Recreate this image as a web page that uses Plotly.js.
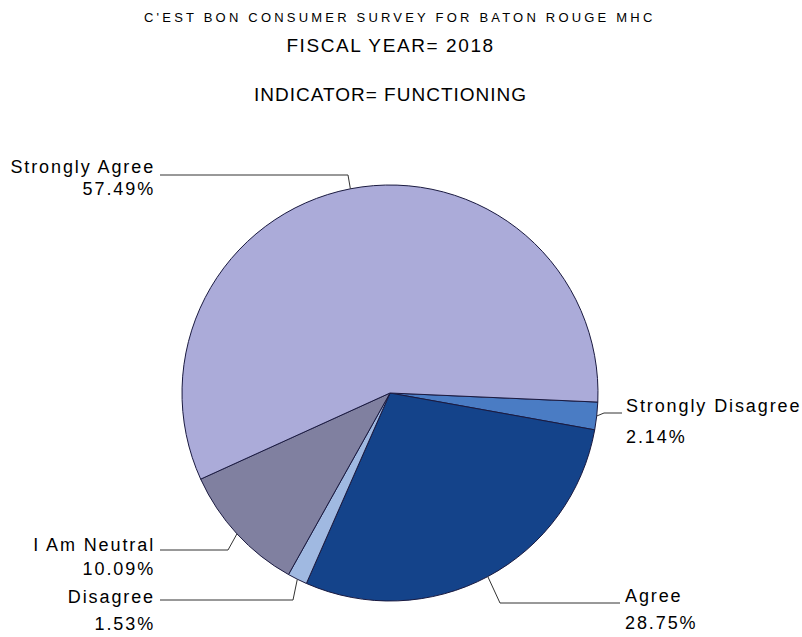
<!DOCTYPE html>
<html><head><meta charset="utf-8">
<script src="https://cdn.plot.ly/plotly-3.0.1.min.js"></script>
<style>
html,body{margin:0;padding:0;background:#fff}
.annotation text{letter-spacing:1.9px}
.annotation[data-index="10"] text{letter-spacing:3.2px}
.annotation[data-index="11"] text{letter-spacing:1.6px}
.annotation[data-index="12"] text{letter-spacing:1.0px}
</style>
</head><body><div id="chart" style="width:802px;height:637px"></div>
<script>
// ---- data ----
const categories = ["Strongly Disagree", "Agree", "Disagree", "I Am Neutral", "Strongly Agree"];
const percents = [2.14, 28.75, 1.53, 10.09, 57.49];
const pctLabels = ["2.14%", "28.75%", "1.53%", "10.09%", "57.49%"];
const colors = ["#4A7CC4", "#14438A", "#A0B9E1", "#8080A0", "#ABABD9"];
const titleLines = ["C'EST BON CONSUMER SURVEY FOR BATON ROUGE MHC", "FISCAL YEAR= 2018", "INDICATOR= FUNCTIONING"];

// ---- layout constants (pixels) ----
const W = 802, H = 637;
const cx = 390, cy = 393, R = 208;
const rotation = 92.5;
const px = x => x / W;
const py = y => 1 - y / H;
const FONT = "Liberation Sans, Arial, sans-serif";

const labelLayout = {
  "Strongly Agree":   {x: 157, yName: 167, yPct: 189, anchor: "right", kink: [348, 175], endX: 160},
  "Strongly Disagree":{x: 624, yName: 406, yPct: 437, anchor: "left",  kink: [604, 413], endX: 622},
  "Agree":            {x: 623, yName: 596, yPct: 623, anchor: "left",  kink: [500, 603], endX: 620},
  "Disagree":         {x: 157, yName: 597, yPct: 624, anchor: "right", kink: [293, 600], endX: 160},
  "I Am Neutral":     {x: 157, yName: 545, yPct: 569, anchor: "right", kink: [228, 550], endX: 160}
};

const total = percents.reduce((a, b) => a + b, 0);
const annotations = [];
const shapes = [];
let cum = 0;
categories.forEach((cat, i) => {
  const mid = cum + percents[i] / 2;
  cum += percents[i];
  const th = (rotation + 360 * mid / total) * Math.PI / 180;
  const ex = cx + R * Math.sin(th), ey = cy - R * Math.cos(th);
  const L = labelLayout[cat];
  shapes.push({
    type: "path", xref: "paper", yref: "paper",
    path: `M ${px(ex)} ${py(ey)} L ${px(L.kink[0])} ${py(L.kink[1])} L ${px(L.endX)} ${py(L.kink[1])}`,
    line: {color: "#333333", width: 1}
  });
  annotations.push({xref: "paper", yref: "paper", x: px(L.x), y: py(L.yName), xanchor: L.anchor, align: L.anchor, yanchor: "middle",
    text: cat, showarrow: false, font: {family: FONT, size: 18, color: "#000"}});
  annotations.push({xref: "paper", yref: "paper", x: px(L.x), y: py(L.yPct), xanchor: L.anchor, align: L.anchor, yanchor: "middle",
    text: pctLabels[i], showarrow: false, font: {family: FONT, size: 18, color: "#000"}});
});

annotations.push({xref: "paper", yref: "paper", x: px(400), y: py(18), xanchor: "center", yanchor: "middle",
  text: titleLines[0], showarrow: false, font: {family: FONT, size: 13, color: "#000"}});
annotations.push({xref: "paper", yref: "paper", x: px(390), y: py(45), xanchor: "center", yanchor: "middle",
  text: titleLines[1], showarrow: false, font: {family: FONT, size: 19, color: "#000"}});
annotations.push({xref: "paper", yref: "paper", x: px(390), y: py(95), xanchor: "center", yanchor: "middle",
  text: titleLines[2], showarrow: false, font: {family: FONT, size: 19, color: "#000"}});

const trace = {
  type: "pie",
  labels: categories,
  values: percents,
  sort: false,
  direction: "clockwise",
  rotation: rotation,
  textinfo: "none",
  hoverinfo: "label+percent",
  marker: {colors: colors, line: {color: "#1a1a40", width: 1}},
  domain: {x: [px(cx - R), px(cx + R)], y: [py(cy + R), py(cy - R)]}
};

Plotly.newPlot("chart", [trace], {
  width: W, height: H,
  margin: {l: 0, r: 0, t: 0, b: 0},
  showlegend: false,
  paper_bgcolor: "#fff",
  annotations: annotations,
  shapes: shapes
}, {staticPlot: true});
</script></body></html>
